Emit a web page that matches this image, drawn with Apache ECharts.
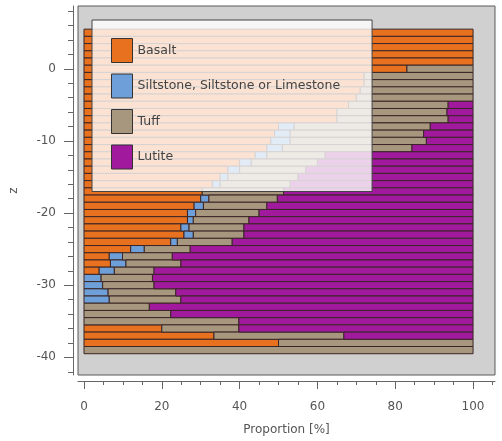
<!DOCTYPE html>
<html>
<head>
<meta charset="utf-8">
<script src="https://cdn.jsdelivr.net/npm/echarts@6/dist/echarts.min.js"></script>
<style>html,body{margin:0;padding:0;background:#fff;}#c{width:502px;height:441px;}</style>
</head>
<body>
<div id="c"></div>
<script>
// depth levels (z), one bar each, from top to bottom
const zLevels = [5,4,3,2,1,0,-1,-2,-3,-4,-5,-6,-7,-8,-9,-10,-11,-12,-13,-14,-15,-16,-17,-18,-19,-20,-21,-22,-23,-24,-25,-26,-27,-28,-29,-30,-31,-32,-33,-34,-35,-36,-37,-38,-39];
const seriesNames = ['Basalt', 'Siltstone, Siltstone or Limestone', 'Tuff', 'Lutite'];
// proportions [%] per level
const basalt = [100,100,100,100,100,83,72,72,71,70,68,65,65,50,49,48,47,44,40,37,35,33,30.4,30,28.3,26.6,26.6,24.9,25.7,22.3,12,6.5,6.8,3.9,0,0,0,0,0,0,0,20,33.4,50,0];
const siltstone = [0,0,0,0,0,0,0,0,0,0,0,0,0,4,4,5,4,3,3,3,2,2,0,2.1,2.4,2.1,1.5,2.1,2.4,1.7,3.5,3.4,4,3.9,4.4,4.8,6.2,6.5,0,0,0,0,0,0,0];
const tuff = [0,0,0,0,0,17,28,28,29,30,25.6,28.3,28.6,35,34.3,35,33.3,15,17,17,18,18,20.9,17.6,16.3,16.3,14.3,14.1,13,14.1,11.8,12.8,14.1,10.2,13.2,13.2,17.4,18.4,16.8,22.3,39.8,19.8,33.4,50,100];
const lutite = [0,0,0,0,0,0,0,0,0,0,6.4,6.7,6.4,11,12.7,12,15.7,38,40,43,45,47,48.7,50.3,53,55,57.6,58.9,58.9,61.9,72.7,77.3,75.1,82,82.4,82,76.4,75.1,83.2,77.7,60.2,60.2,33.2,0,0];
const xMajorTicks = [0,20,40,60,80,100];
const xMinorTicks = [0,5,10,15,20,25,30,35,40,45,50,55,60,65,70,75,80,85,90,95,100,105];
const yMajorTicks = [-40,-30,-20,-10,0];
const yMinorTicks = [-42,-40,-38,-36,-34,-32,-30,-28,-26,-24,-22,-20,-18,-16,-14,-12,-10,-8,-6,-4,-2,0,2,4,6,8];

const colors = ['#e8711f', '#6f9fd8', '#a8977f', '#a1199d'];
const allValues = [basalt, siltstone, tuff, lutite];
const stroke = '#3a2626';

function buildData(s) {
  const out = [];
  for (let i = 0; i < zLevels.length; i++) {
    let start = 0;
    for (let k = 0; k < s; k++) start += allValues[k][i];
    const v = allValues[s][i];
    if (v > 0) out.push([start, start + v, zLevels[i]]);
  }
  return out;
}

function renderItem(params, api) {
  const p0 = api.coord([api.value(0), api.value(2) + 0.5]);
  const p1 = api.coord([api.value(1), api.value(2) - 0.5]);
  return {
    type: 'rect',
    shape: { x: p0[0], y: p0[1], width: p1[0] - p0[0], height: p1[1] - p0[1] },
    style: { fill: api.visual('color'), stroke: stroke, lineWidth: 1 }
  };
}

const font = 'DejaVu Sans';
const axisCommon = {
  type: 'value', splitLine: { show: false },
  axisLine: { onZero: false }
};

const option = {
  animation: false,
  backgroundColor: '#ffffff',
  grid: {
    left: 77, right: 7, top: 6, bottom: 59,
    show: true, backgroundColor: '#d0d0d0', borderColor: '#5a5a5a', borderWidth: 1
  },
  xAxis: [
    Object.assign({}, axisCommon, {
      min: -1.54, max: 105.64, position: 'bottom', offset: 6,
      axisLine: { show: true, onZero: false, lineStyle: { color: '#666' } },
      axisTick: { show: true, length: 4, customValues: xMinorTicks, lineStyle: { color: '#666' } },
      axisLabel: { show: false }
    }),
    Object.assign({}, axisCommon, {
      min: -1.54, max: 105.64, position: 'bottom', offset: 6,
      axisLine: { show: false, onZero: false },
      axisTick: { show: true, length: 8, customValues: xMajorTicks, lineStyle: { color: '#666' } },
      axisLabel: { show: true, customValues: xMajorTicks, fontSize: 12, color: '#555', fontFamily: font, margin: 20 },
      name: 'Proportion [%]', nameLocation: 'middle', nameGap: 43,
      nameTextStyle: { fontSize: 12, color: '#555', fontFamily: font }
    })
  ],
  yAxis: [
    Object.assign({}, axisCommon, {
      min: -42.45, max: 8.71, position: 'left', offset: 5,
      axisLine: { show: true, onZero: false, lineStyle: { color: '#666' } },
      axisTick: { show: true, length: 5, customValues: yMinorTicks, lineStyle: { color: '#666' } },
      axisLabel: { show: false }
    }),
    Object.assign({}, axisCommon, {
      min: -42.45, max: 8.71, position: 'left', offset: 5,
      axisLine: { show: false, onZero: false },
      axisTick: { show: true, length: 9, customValues: yMajorTicks, lineStyle: { color: '#666' } },
      axisLabel: { show: true, customValues: yMajorTicks, fontSize: 12, color: '#555', fontFamily: font, margin: 17 },
      name: 'z', nameLocation: 'middle', nameGap: 53,
      nameTextStyle: { fontSize: 12, color: '#555', fontFamily: font }
    })
  ],
  legend: {
    orient: 'vertical', left: 92, top: 20,
    padding: [18, 32, 22, 19], itemGap: 10.5, itemWidth: 21, itemHeight: 24,
    backgroundColor: 'rgba(255,255,255,0.8)', borderColor: '#444', borderWidth: 1,
    textStyle: { fontSize: 12.5, color: '#444', fontFamily: font },
    data: seriesNames.map(function (n, i) {
      return { name: n, icon: 'rect', itemStyle: { color: colors[i], borderColor: '#333', borderWidth: 1 } };
    })
  },
  series: seriesNames.map(function (n, s) {
    return {
      name: n, type: 'custom', xAxisIndex: 0, yAxisIndex: 0,
      itemStyle: { color: colors[s] },
      renderItem: renderItem,
      encode: { x: [0, 1], y: 2 },
      data: buildData(s)
    };
  })
};

const chart = echarts.init(document.getElementById('c'), null, { renderer: 'canvas' });
chart.setOption(option);
</script>
</body>
</html>
